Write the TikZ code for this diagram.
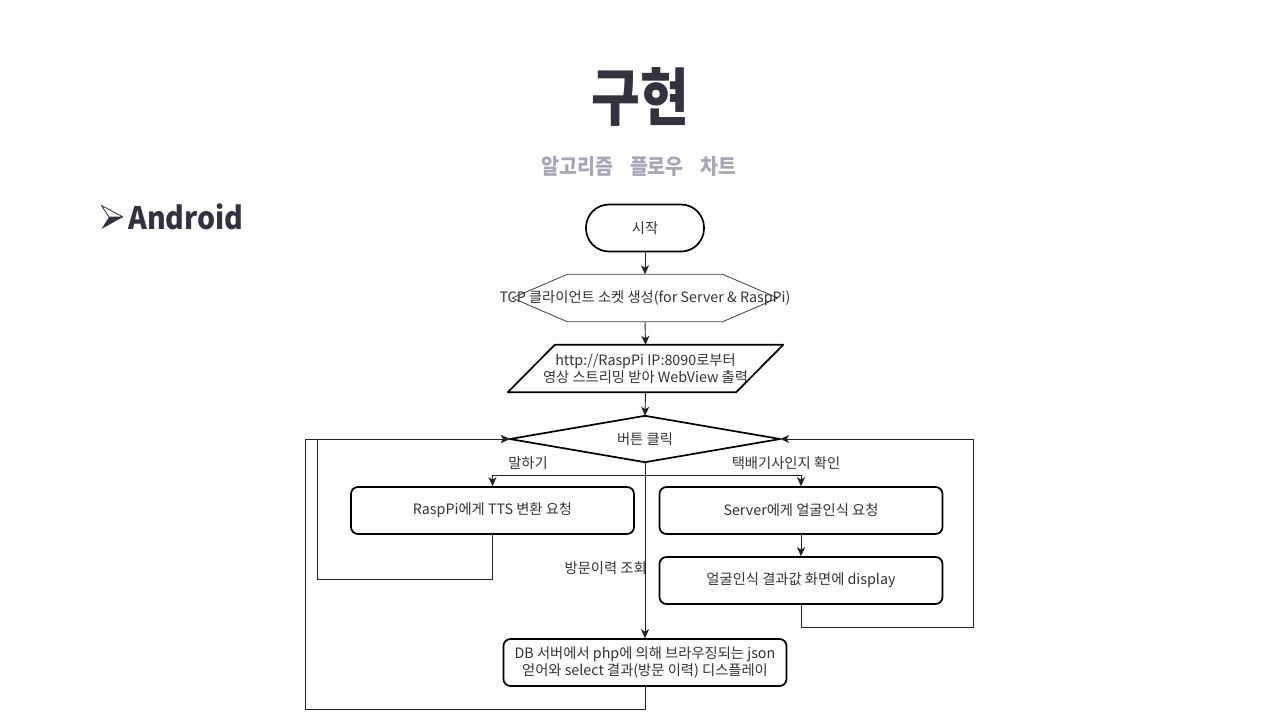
\documentclass[tikz,border=0pt]{standalone}
\usepackage{fontspec}
\usetikzlibrary{arrows.meta}
\newfontfamily\kr{Noto Sans CJK KR}
\definecolor{titlec}{HTML}{35323F}
\definecolor{subc}{HTML}{A9A6B8}
\definecolor{txt}{HTML}{333333}
\definecolor{linec}{HTML}{222222}
\tikzset{
  txtstyle/.style={font=\kr\fontsize{14.3}{16.5}\selectfont, text=txt, align=center, inner sep=0pt},
  box/.style={txtstyle, draw=black, line width=1.7pt, rounded corners=7pt, minimum width=283pt, minimum height=47pt},
  ghost/.style={txtstyle, draw=none, minimum height=47pt},
  shapeline/.style={draw=black, line width=1.7pt, line join=round},
  conn/.style={draw=linec, line width=0.9pt},
  arr/.style={conn, -{Stealth[length=9pt,width=8pt,inset=2.5pt]}},
  lbl/.style={txtstyle}
}
\begin{document}
\begin{tikzpicture}[x=1pt,y=-1pt]
\useasboundingbox[fill=white] (0,0) rectangle (1280,720);
% titles
\node[font=\kr\bfseries\fontsize{53}{58}\selectfont, text=titlec, yscale=1.18, inner sep=0pt] (title) at (640,97) {구현};
\node[font=\kr\bfseries\fontsize{19.5}{23}\selectfont, text=subc, yscale=1.1, inner sep=0pt] (sub) at (639,166) {알고리즘\hspace{17pt}플로우\hspace{17pt}차트};
% bullet arrowhead
\draw[draw=titlec, line width=0.8pt, line join=round] (101.5,205.5) -- (123,217) -- (109,217) -- cycle;
\fill[titlec] (109,217) -- (123,217) -- (101.5,229) -- cycle;
\node[font=\kr\bfseries\fontsize{31}{36}\selectfont, text=titlec, xscale=0.92, anchor=west, inner sep=0pt] (android) at (128,217) {Android};

% start
\node[box, rounded corners=23pt, minimum width=118pt] (start) at (645,228) {시작};
% hexagon
\node[ghost, minimum width=265pt] (hex) at (645,298) {};
\draw[draw=black!75, line width=0.8pt] (hex.west) -- ([xshift=55pt]hex.north west) -- ([xshift=-55pt]hex.north east) -- (hex.east) -- ([xshift=-55pt]hex.south east) -- ([xshift=55pt]hex.south west) -- cycle;
\node[lbl] (hext) at (645,298) {TCP 클라이언트 소켓 생성(for Server \& RaspPi)};
% parallelogram
\node[ghost, minimum width=228pt] (para) at (645.5,368.5) {http://RaspPi IP:8090로부터\\영상 스트리밍 받아 WebView 출력};
\draw[shapeline] ([xshift=23.5pt]para.north west) -- ([xshift=23.5pt]para.north east) -- ([xshift=-23.5pt]para.south east)  -- ([xshift=-23.5pt]para.south west) -- cycle;
% diamond
\node[ghost, minimum width=270pt, minimum height=46pt] (dia) at (645,439) {버튼 클릭};
\draw[shapeline] (dia.west) -- (dia.north) -- (dia.east) -- (dia.south) -- cycle;
% boxes
\node[box] (tts) at (492.5,510.5) {RaspPi에게 TTS 변환 요청};
\node[box] (srv) at (801,510.5) {Server에게 얼굴인식 요청};
\node[box] (disp) at (801,580.5) {얼굴인식 결과값 화면에 display};
\node[box] (db) at (645,662.5) {DB 서버에서 php에 의해 브라우징되는 json\\얻어와 select 결과(방문 이력) 디스플레이};

% connectors
\draw[arr] (start.south) -- (hex.north);
\draw[arr] (hex.south) -- (para.north);
\draw[arr] (para.south) -- (dia.north);
\coordinate (split) at (645,475.5);
\draw[arr] (dia.south) -- (split) -| (tts.north);
\draw[arr] (split) -| (srv.north);
\draw[arr] (dia.south) -- (db.north);
\draw[arr] (srv.south) -- (disp.north);
\coordinate (rr) at (973,627);
\draw[arr] (disp.south) |- (rr) |- (dia.east);
\coordinate (ll) at (317,579);
\draw[arr] (tts.south) |- (ll) |- (dia.west);
\coordinate (lo) at (305,709);
\draw[arr] (db.south) |- (lo) |- (dia.west);

% labels
\node[lbl] (l1) at (528,463) {말하기};
\node[lbl] (l2) at (786,463) {택배기사인지 확인};
\node[lbl, anchor=east] (l3) at (647,568) {방문이력 조회};
\end{tikzpicture}
\end{document}
